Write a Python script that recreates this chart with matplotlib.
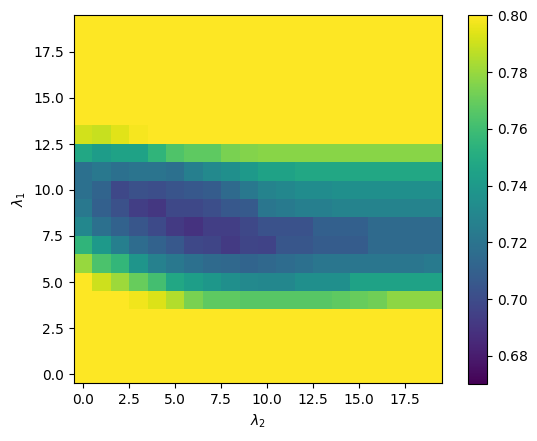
import numpy as np
import matplotlib
matplotlib.use("Agg")
import matplotlib.pyplot as plt

lambda2 = list(range(20))
lambda1 = list(range(20))

Y = 0.80
# rows indexed by lambda1 (bottom to top), columns by lambda2
row_0 = [Y] * 20
row_1 = [Y] * 20
row_2 = [Y] * 20
row_3 = [Y] * 20
row_4 = [0.800, 0.800, 0.800, 0.797, 0.793, 0.785, 0.774, 0.768, 0.768, 0.766,
         0.766, 0.766, 0.766, 0.766, 0.768, 0.770, 0.772, 0.778, 0.778, 0.778]
row_5 = [0.800, 0.790, 0.781, 0.770, 0.761, 0.748, 0.743, 0.739, 0.735, 0.731,
         0.730, 0.730, 0.735, 0.735, 0.735, 0.745, 0.745, 0.745, 0.745, 0.745]
row_6 = [0.780, 0.763, 0.756, 0.738, 0.727, 0.722, 0.718, 0.715, 0.714, 0.712,
         0.714, 0.716, 0.718, 0.721, 0.721, 0.721, 0.721, 0.721, 0.721, 0.723]
row_7 = [0.755, 0.740, 0.726, 0.716, 0.711, 0.706, 0.698, 0.697, 0.692, 0.697,
         0.696, 0.705, 0.705, 0.708, 0.708, 0.708, 0.715, 0.715, 0.715, 0.715]
row_8 = [0.730, 0.718, 0.711, 0.705, 0.699, 0.692, 0.689, 0.694, 0.694, 0.698,
         0.703, 0.703, 0.703, 0.710, 0.710, 0.710, 0.715, 0.715, 0.715, 0.715]
row_9 = [0.722, 0.710, 0.702, 0.694, 0.691, 0.698, 0.698, 0.701, 0.706, 0.707,
         0.721, 0.723, 0.726, 0.726, 0.728, 0.728, 0.728, 0.728, 0.728, 0.728]
row_10 = [0.718, 0.712, 0.698, 0.702, 0.701, 0.704, 0.706, 0.708, 0.715, 0.722,
          0.728, 0.730, 0.733, 0.733, 0.735, 0.735, 0.735, 0.735, 0.735, 0.735]
row_11 = [0.718, 0.722, 0.718, 0.720, 0.720, 0.718, 0.726, 0.731, 0.735, 0.740,
          0.745, 0.745, 0.748, 0.748, 0.748, 0.748, 0.748, 0.748, 0.748, 0.748]
row_12 = [0.748, 0.742, 0.745, 0.745, 0.755, 0.764, 0.768, 0.768, 0.774, 0.776,
          0.777, 0.777, 0.777, 0.777, 0.777, 0.777, 0.777, 0.777, 0.777, 0.777]
row_13 = [0.791, 0.789, 0.794, 0.798] + [Y] * 16
row_14 = [Y] * 20
row_15 = [Y] * 20
row_16 = [Y] * 20
row_17 = [Y] * 20
row_18 = [Y] * 20
row_19 = [Y] * 20

grid = np.array([row_0, row_1, row_2, row_3, row_4, row_5, row_6, row_7, row_8, row_9,
                 row_10, row_11, row_12, row_13, row_14, row_15, row_16, row_17, row_18, row_19])

fig = plt.figure(figsize=(5.37, 4.41), dpi=100)
ax = fig.add_axes([73.8 / 537, (441 - 383.2) / 441, 368 / 537, 368 / 441])
cax = fig.add_axes([468.3 / 537, (441 - 384.3) / 441, 19 / 537, 369 / 441])

im = ax.imshow(grid, origin="lower", cmap="viridis", vmin=0.67, vmax=0.80,
               extent=[lambda2[0] - 0.5, lambda2[-1] + 0.5, lambda1[0] - 0.5, lambda1[-1] + 0.5])
ax.set_xlabel(r"$\lambda_2$")
ax.set_ylabel(r"$\lambda_1$")
fig.colorbar(im, cax=cax)

fig.savefig("out.png", dpi=100)
